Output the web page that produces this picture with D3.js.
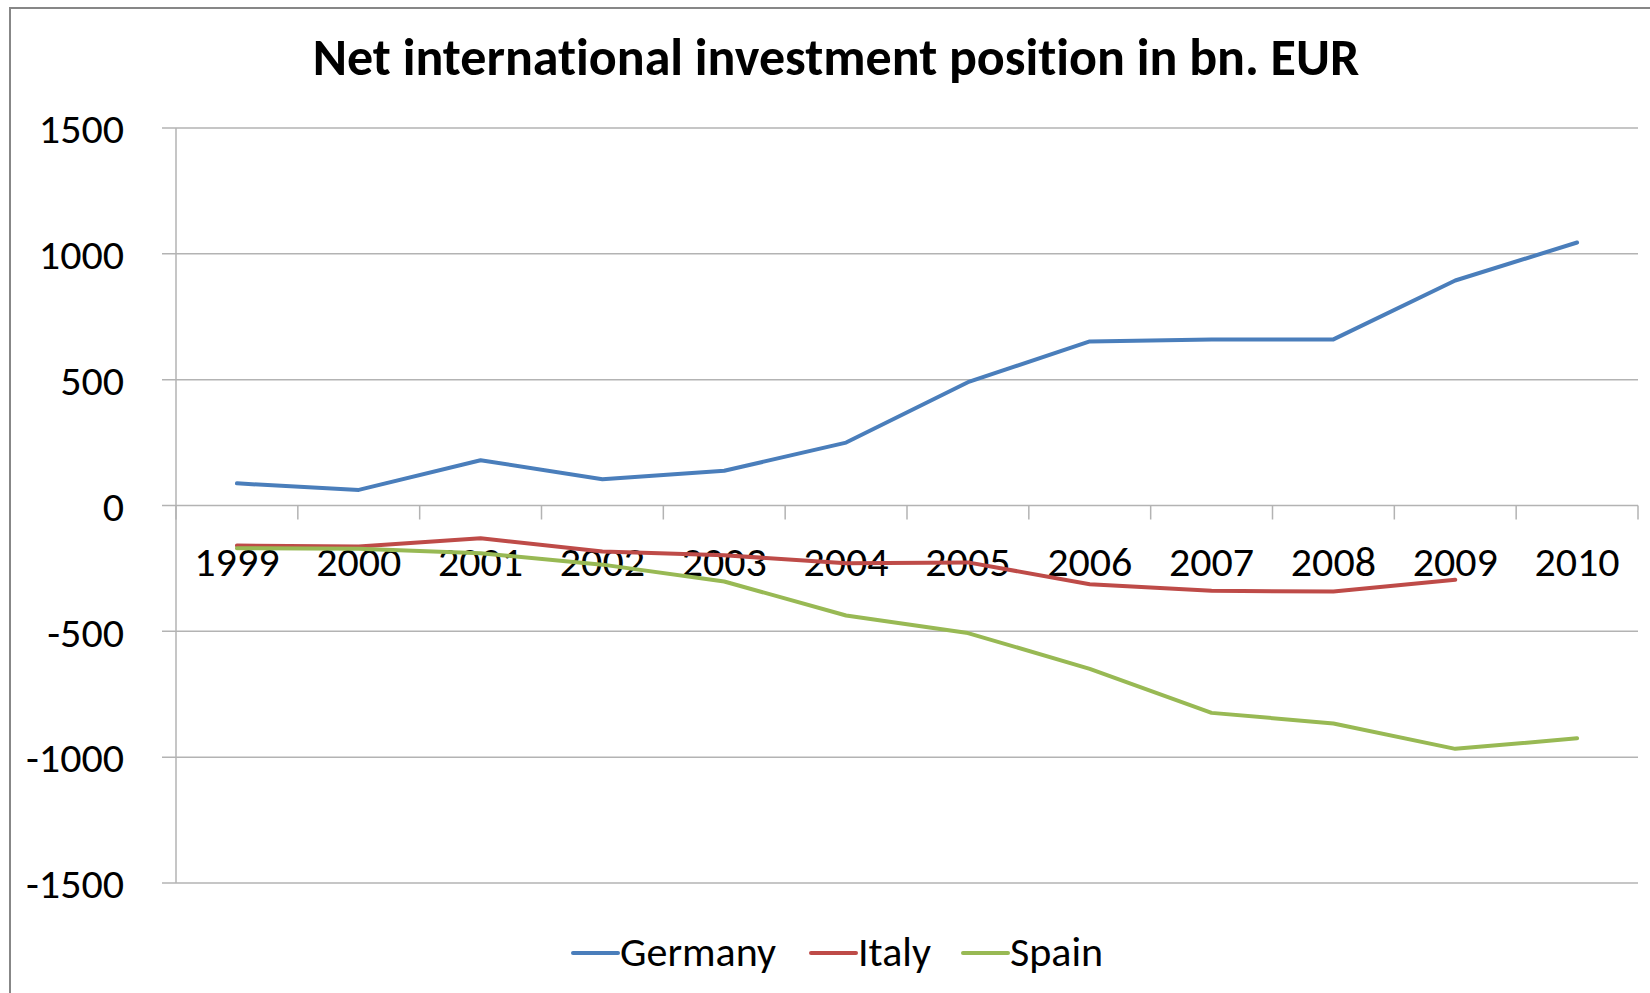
<!DOCTYPE html>
<html>
<head>
<meta charset="utf-8">
<script src="https://cdn.jsdelivr.net/npm/d3@7"></script>
<style>
  body { margin: 0; background: #fff; }
  text { font-family: Carlito, Lato, sans-serif; fill: #000; font-variant-ligatures: none; }
</style>
</head>
<body>
<div id="chart"></div>
<script>

// Net international investment position, bn. EUR
var years = ["1999", "2000", "2001", "2002", "2003", "2004", "2005", "2006", "2007", "2008", "2009", "2010"];
var germany = [88, 62, 180, 104, 138, 250, 490, 652, 660, 660, 894, 1045];
var italy = [-159, -163, -130, -183, -198, -229, -226, -313, -339, -342, -295, null];
var spain = [-170, -172, -190, -235, -302, -437, -507, -649, -824, -866, -967, -925];
var yTicks = [-1500, -1000, -500, 0, 500, 1000, 1500];

var series = [
  { name: "Germany", values: germany, color: "#4a7ebb" },
  { name: "Italy", values: italy, color: "#be4b48" },
  { name: "Spain", values: spain, color: "#98b954" }
];

var margin = {
  left: 176,
  right: 12,
  top: 128,
  bottom: 110
};

function lineChart() {

  var chart = this;

  chart.width = 1650 - margin.left - margin.right;
  chart.height = 993 - margin.top - margin.bottom;

  var svg = d3.select("#chart")
    .append("svg")
    .attr("width", 1650)
    .attr("height", 993);

  // outer frame
  svg.append("rect")
    .attr("x", 10)
    .attr("y", 8)
    .attr("width", 1700)
    .attr("height", 1100)
    .attr("fill", "none")
    .attr("stroke", "#878787")
    .attr("stroke-width", 2);

  svg.append("text")
    .attr("x", 836)
    .attr("y", 75)
    .attr("text-anchor", "middle")
    .style("font-size", "52px")
    .style("font-weight", "bold")
    .text("Net international investment position in bn. EUR");

  chart.svg = svg.append("g")
    .attr("transform", "translate(" + margin.left + "," + margin.top + ")");

  chart.xScale = d3.scaleBand()
    .domain(years)
    .range([0, chart.width]);

  chart.yScale = d3.scaleLinear()
    .domain([-1500, 1500])
    .range([chart.height, 0]);

  // horizontal gridlines, extending left as ticks
  chart.svg.selectAll(".grid")
    .data(yTicks).enter()
    .append("line")
    .attr("class", "grid")
    .attr("x1", -14)
    .attr("x2", chart.width)
    .attr("y1", function(d){ return chart.yScale(d) })
    .attr("y2", function(d){ return chart.yScale(d) })
    .attr("stroke", "#b3b3b3")
    .attr("stroke-width", 1.5);

  chart.svg.append("line")
    .attr("x1", 0).attr("x2", 0)
    .attr("y1", 0).attr("y2", chart.height)
    .attr("stroke", "#b3b3b3")
    .attr("stroke-width", 1.5);

  var yAxis = d3.axisLeft(chart.yScale)
    .tickValues(yTicks)
    .tickFormat(function(d){ return String(d) })
    .tickSize(0)
    .tickPadding(52);

  var gy = chart.svg.append("g").call(yAxis);
  gy.select(".domain").remove();
  gy.selectAll("text").style("font-size", "42px").attr("dy", "0.35em");

  // category axis sits on zero
  var bounds = years.map(function(d){ return chart.xScale(d) }).concat([chart.width]);
  chart.svg.selectAll(".xtick")
    .data(bounds).enter()
    .append("line")
    .attr("class", "xtick")
    .attr("x1", function(d){ return d })
    .attr("x2", function(d){ return d })
    .attr("y1", chart.yScale(0))
    .attr("y2", chart.yScale(0) + 14)
    .attr("stroke", "#b3b3b3")
    .attr("stroke-width", 1.5);

  chart.svg.selectAll(".xlabel")
    .data(years).enter()
    .append("text")
    .attr("class", "xlabel")
    .attr("x", function(d){ return chart.xScale(d) + chart.xScale.bandwidth() / 2 })
    .attr("y", chart.yScale(0) + 70)
    .attr("text-anchor", "middle")
    .style("font-size", "42px")
    .text(function(d){ return d });

  var line = d3.line()
    .defined(function(d){ return d != null })
    .x(function(d, i){ return chart.xScale(years[i]) + chart.xScale.bandwidth() / 2 })
    .y(function(d){ return chart.yScale(d) });

  chart.svg.selectAll(".series")
    .data(series).enter()
    .append("path")
    .attr("class", "series")
    .attr("d", function(d){ return line(d.values) })
    .attr("fill", "none")
    .attr("stroke", function(d){ return d.color })
    .attr("stroke-width", 4)
    .attr("stroke-linejoin", "round")
    .attr("stroke-linecap", "round");

  // legend
  var legendX = [573, 811, 963];
  var legend = svg.selectAll(".legend")
    .data(series).enter()
    .append("g")
    .attr("class", "legend")
    .attr("transform", function(d, i){ return "translate(" + legendX[i] + ",953)" });

  legend.append("line")
    .attr("x1", 0).attr("x2", 45)
    .attr("stroke", function(d){ return d.color })
    .attr("stroke-width", 4)
    .attr("stroke-linecap", "round");

  legend.append("text")
    .attr("x", 47)
    .attr("y", 13)
    .style("font-size", "42px")
    .text(function(d){ return d.name });
}

lineChart();

</script>
</body>
</html>
